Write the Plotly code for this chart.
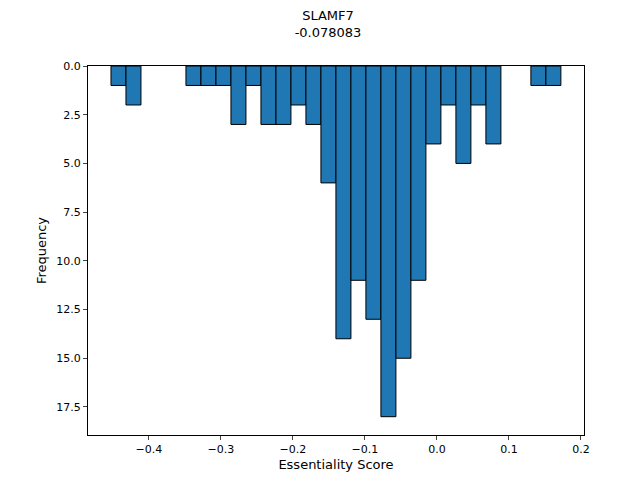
import plotly.graph_objects as go

bin_start = -0.4528
bin_width = 0.02083
counts = [1, 2, 0, 0, 0, 1, 1, 1, 3, 1, 3, 3, 2, 3, 6, 14, 11, 13, 18, 15, 11, 4, 2, 5, 2, 4, 0, 0, 1, 1]
centers = [bin_start + bin_width * (i + 0.5) for i in range(len(counts))]
plot_counts = [c if c > 0 else None for c in counts]

fig = go.Figure(go.Bar(x=centers, y=plot_counts, width=bin_width,
                       marker=dict(color="#1f77b4", line=dict(color="black", width=1))))
fig.update_layout(
    width=640, height=480, paper_bgcolor="white", plot_bgcolor="white",
    margin=dict(l=80, r=64, t=58, b=53), showlegend=False,
    font=dict(family="DejaVu Sans", size=11, color="black"),
    title=dict(text="SLAMF7<br>-0.078083", x=0.5, xanchor="center", y=0.975, yanchor="top",
               font=dict(size=13)),
)
fig.update_xaxes(range=[-0.4847, 0.2042], tickvals=[-0.4, -0.3, -0.2, -0.1, 0.0, 0.1, 0.2],
                 tickformat=".1f", ticks="outside", ticklen=4, showgrid=False, zeroline=False,
                 showline=True, linecolor="black", mirror=True, automargin=False,
                 title=dict(text="Essentiality Score", standoff=4))
fig.update_yaxes(range=[18.94, 0], tickvals=[0, 2.5, 5, 7.5, 10, 12.5, 15, 17.5],
                 tickformat=".1f", ticks="outside", ticklen=4, showgrid=False, zeroline=False,
                 showline=True, linecolor="black", mirror=True, automargin=False,
                 title=dict(text="Frequency", standoff=6))
fig.write_html("out.html")
